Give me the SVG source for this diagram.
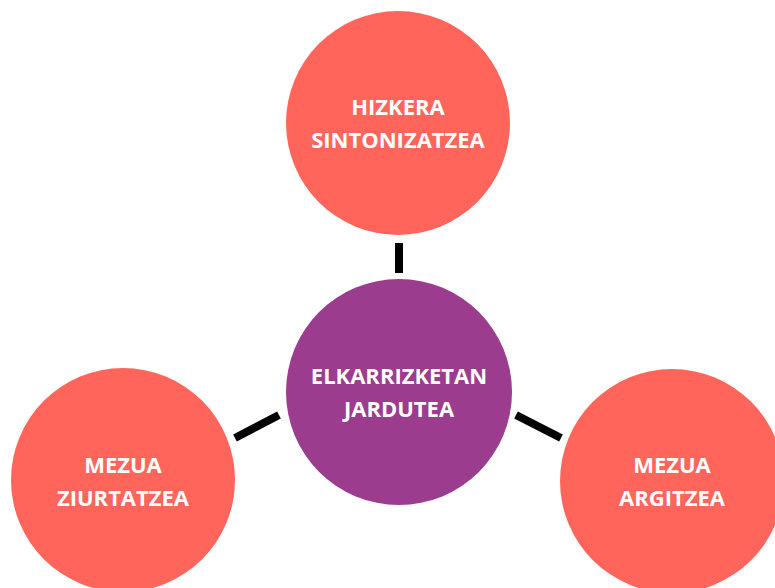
<svg xmlns="http://www.w3.org/2000/svg" width="775" height="588" viewBox="0 0 775 588">
<style>
.outer{fill:#FF655A}
.center{fill:#9B3C8E}
.lbl{font-family:"Open Sans","Lato",sans-serif;font-weight:700;font-size:22px;fill:#FFFFFF;text-anchor:middle}
.conn{stroke:#000000;stroke-width:8;fill:none}
</style>
<rect width="775" height="588" fill="#FFFFFF"/>
<g id="connectors">
<line class="conn" x1="399" y1="243" x2="399" y2="273"/>
<line class="conn" x1="235" y1="438" x2="279" y2="415"/>
<line class="conn" x1="516" y1="415" x2="561" y2="438"/>
</g>
<g id="node-hizkera">
<circle class="outer" cx="398" cy="123" r="112"/>
<text class="lbl" x="398" y="115">HIZKERA</text>
<text class="lbl" x="398" y="148">SINTONIZATZEA</text>
</g>
<g id="node-elkarrizketan">
<circle class="center" cx="399" cy="392" r="113"/>
<text class="lbl" x="399" y="384">ELKARRIZKETAN</text>
<text class="lbl" x="399" y="417">JARDUTEA</text>
</g>
<g id="node-ziurtatzea">
<circle class="outer" cx="123" cy="480" r="112"/>
<text class="lbl" x="123" y="473">MEZUA</text>
<text class="lbl" x="123" y="506">ZIURTATZEA</text>
</g>
<g id="node-argitzea">
<circle class="outer" cx="672" cy="481" r="112"/>
<text class="lbl" x="672" y="473">MEZUA</text>
<text class="lbl" x="672" y="506">ARGITZEA</text>
</g>
</svg>
